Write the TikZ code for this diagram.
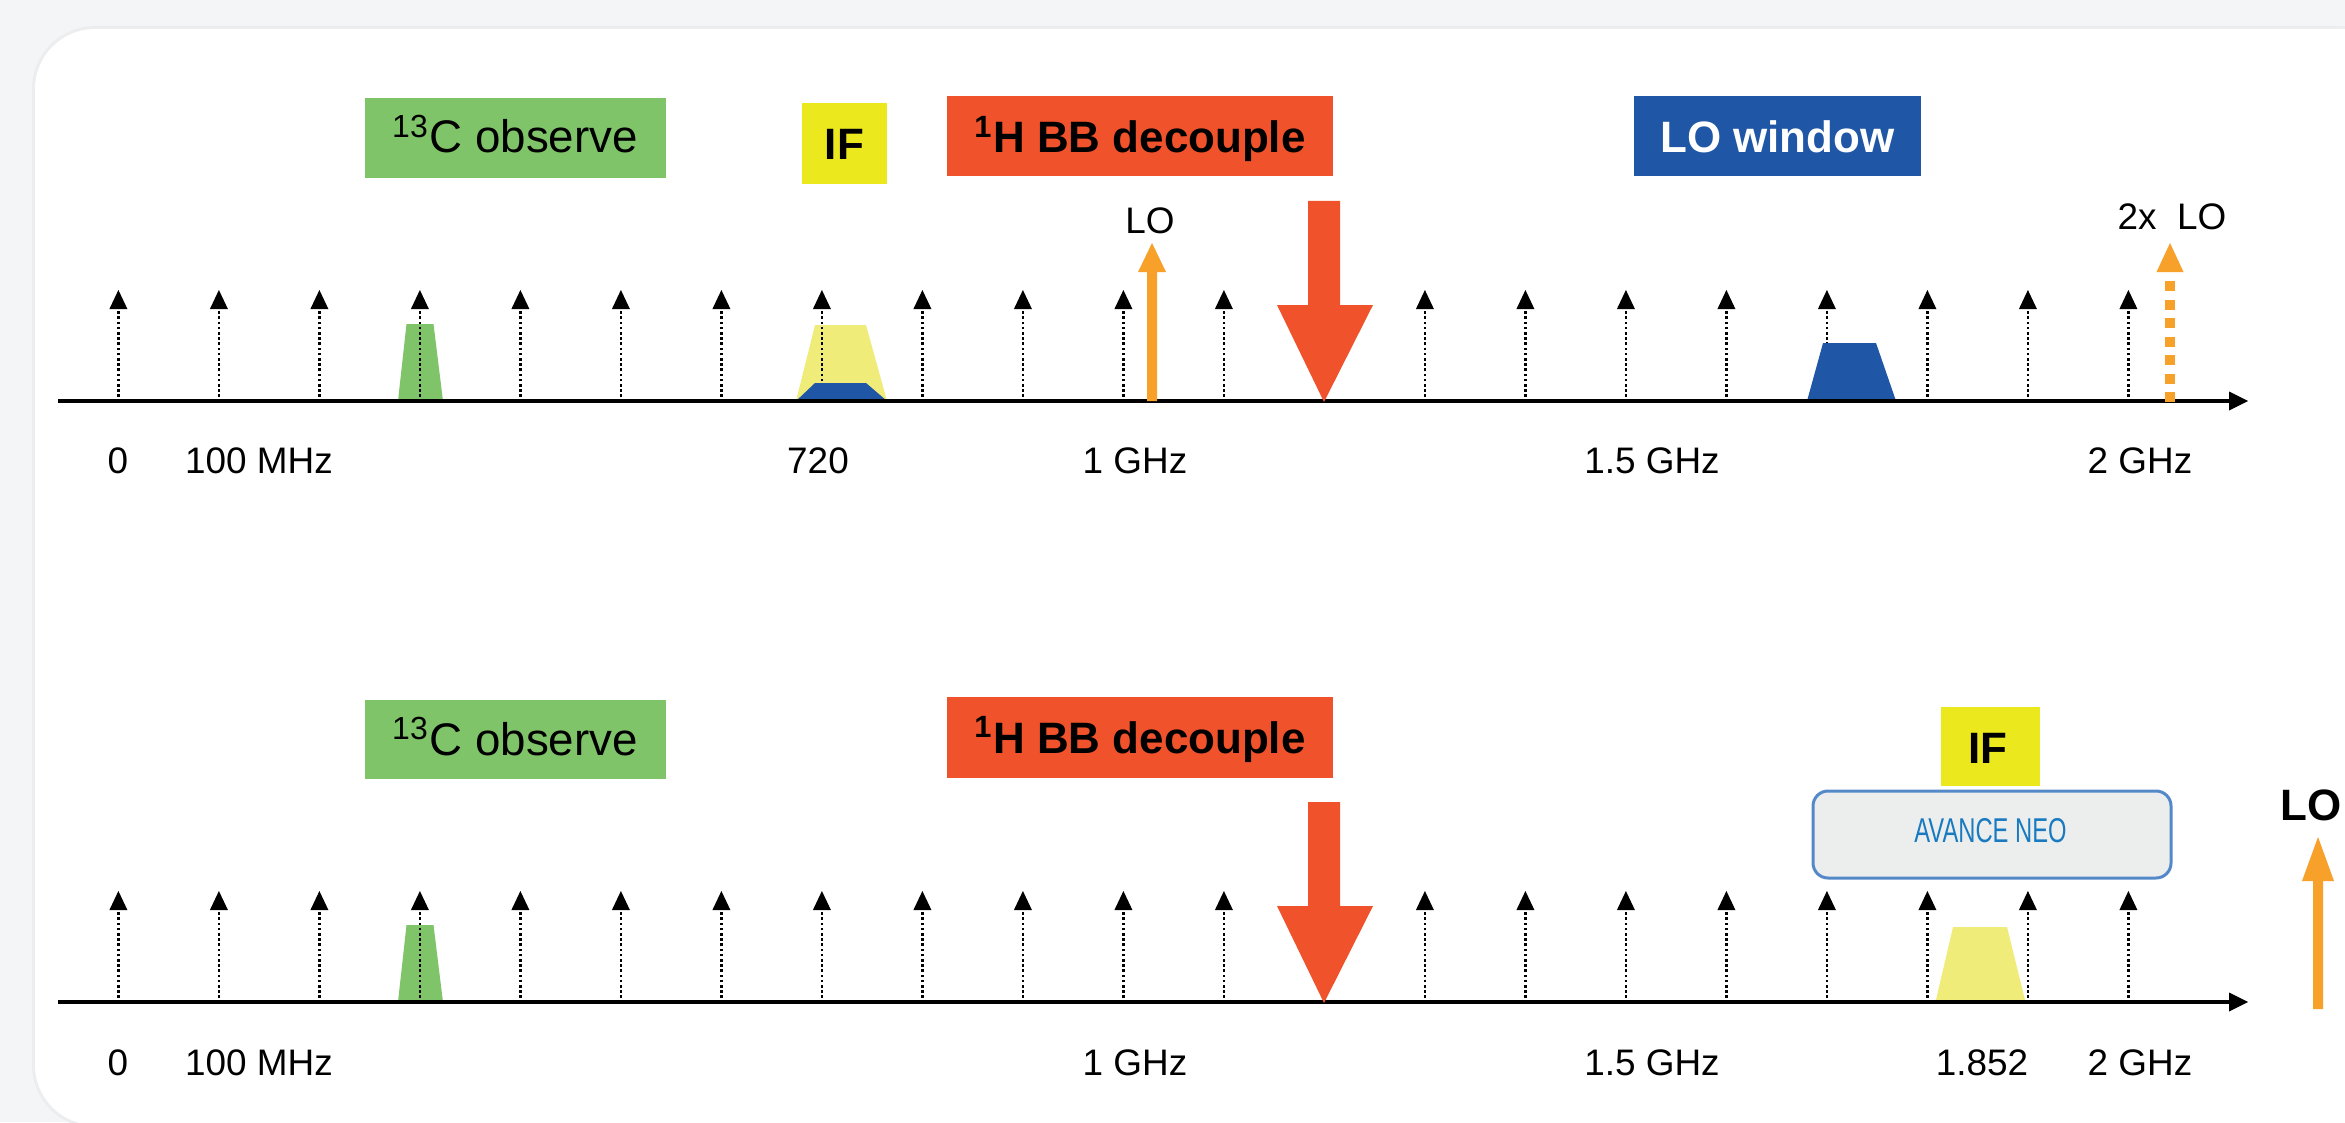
\documentclass[tikz,border=0pt]{standalone}
\usepackage{fontspec}
\usepackage{graphicx}
\setmainfont{Liberation Sans}
\definecolor{bgout}{RGB}{244,245,246}
\definecolor{cardedge}{RGB}{236,237,239}
\definecolor{greenC}{RGB}{128,196,106}
\definecolor{yellowC}{RGB}{235,232,30}
\definecolor{redC}{RGB}{240,82,43}
\definecolor{blueC}{RGB}{31,86,165}
\definecolor{lyellow}{RGB}{240,236,122}
\definecolor{orangeC}{RGB}{247,161,43}
\definecolor{avfill}{RGB}{236,238,238}
\definecolor{avborder}{RGB}{84,137,201}
\definecolor{avtext}{RGB}{25,122,192}
\newcommand{\lblfont}{\fontsize{10.5}{12}\selectfont}
\newcommand{\bxfont}{\fontsize{12.5}{14}\selectfont\bfseries}
\newcommand{\grfont}{\fontsize{13}{15}\selectfont}
\tikzset{
  lbl/.style={inner sep=0pt, anchor=base, font=\lblfont},
  bxtext/.style={inner sep=0pt, anchor=base, font=\bxfont},
  dotline/.style={line width=0.26mm, dash pattern=on 0.27mm off 0.25mm},
  axisline/.style={line width=0.35mm},
}
\begin{document}
\begin{tikzpicture}[x=0.1mm,y=-0.1mm]
\useasboundingbox (0,0) rectangle (2345,1122);
\clip (0,0) rectangle (2345,1122);
\fill[bgout] (0,0) rectangle (2345,1122);
\fill[cardedge, rounded corners=6.3mm] (32,26) rectangle (2400,1128);
\fill[white, rounded corners=6mm] (35,29) rectangle (2400,1125);

% ---------------- both panels: common parts ----------------
\foreach \oy in {0,601}{
  % green trapezoid (13C)
  \fill[greenC] (398,401+\oy) -- (406.5,324+\oy) -- (433.5,324+\oy) -- (443,401+\oy) -- cycle;
}
% top: IF band (yellow)
\fill[lyellow] (796,401) -- (815,325) -- (866,325) -- (887,401) -- cycle;
% bottom: IF band (yellow)
\fill[lyellow] (1935.5,1002) -- (1953,927) -- (2007,927) -- (2025.5,1002) -- cycle;

% ticks
\foreach \oy in {0,601}{
  \foreach \k in {0,...,20}{
    \pgfmathsetmacro{\tx}{118.4+100.5*\k}
    \draw[dotline] (\tx,397+\oy) -- (\tx,310+\oy);
    \fill (\tx-9,309+\oy) -- (\tx,290+\oy) -- (\tx+9,309+\oy) -- cycle;
  }
}

% top: blue parts
\fill[blueC] (796,401) -- (815,383) -- (866,383) -- (887,401) -- cycle;
\fill[blueC] (1807,401) -- (1823,343) -- (1876,343) -- (1896,401) -- cycle;

% axes
\foreach \oy in {0,601}{
  \draw[axisline] (58,401+\oy) -- (2232,401+\oy);
  \fill (2229,391.5+\oy) -- (2248,401+\oy) -- (2229,410.5+\oy) -- cycle;
  % red decoupling arrow
  \fill[redC] (1308,201+\oy) -- (1340,201+\oy) -- (1340,305+\oy) -- (1373,305+\oy)
     -- (1324,402+\oy) -- (1277,305+\oy) -- (1308,305+\oy) -- cycle;
}

% orange LO arrows
\fill[orangeC] (1147,401) -- (1147,272) -- (1138,272) -- (1152,243) -- (1166,272)
   -- (1157,272) -- (1157,401) -- cycle;
\draw[orangeC, line width=1mm, dash pattern=on 1mm off 0.85mm] (2170,402) -- (2170,281);
\fill[orangeC] (2156.5,272) -- (2170,243) -- (2183.5,272) -- cycle;
\fill[orangeC] (2313,1009) -- (2313,881) -- (2302,881) -- (2318,837) -- (2334,881)
   -- (2323,881) -- (2323,1009) -- cycle;

% ---------------- boxes ----------------
% top
\fill[greenC] (365,98) rectangle (666,178);
\node[inner sep=0pt, anchor=base, font=\grfont] (cobs1) at (515,153) {\textsuperscript{13}C observe};
\fill[yellowC] (802,103) rectangle (887,184);
\node[bxtext] (if1) at (844.5,160) {IF};
\fill[redC] (947,96) rectangle (1333,176);
\node[bxtext] (hdec1) at (1140,153) {\textsuperscript{1}H BB decouple};
\fill[blueC] (1634,96) rectangle (1921,176);
\node[bxtext, text=white] (lowin) at (1777.5,152) {LO window};
% bottom
\fill[greenC] (365,700) rectangle (666,779);
\node[inner sep=0pt, anchor=base, font=\grfont] (cobs2) at (515,755) {\textsuperscript{13}C observe};
\fill[redC] (947,697) rectangle (1333,778);
\node[bxtext] (hdec2) at (1140,753) {\textsuperscript{1}H BB decouple};
\fill[yellowC] (1941,707) rectangle (2040,786);
\node[bxtext] (if2) at (1988,763) {IF};
\draw[avborder, line width=0.3mm, fill=avfill, rounded corners=1.5mm] (1813,791) rectangle (2171,878);
\node[inner sep=0pt, anchor=base, text=avtext] (neo) at (1990.5,842)
   {\scalebox{0.69}[1]{\fontsize{9.8}{11}\selectfont AVANCE NEO}};

% ---------------- labels ----------------
\node[lbl] (lo1) at (1150,233) {LO};
\node[lbl] (lo2x) at (2172,230) {2x~~LO};
\node[inner sep=0pt, anchor=base west, font=\fontsize{12.5}{15}\selectfont\bfseries] (lo3) at (2280,820) {LO};

\node[lbl] (t0) at (118,473) {0};
\node[lbl] (t100) at (259,473) {100 MHz};
\node[lbl] (t720) at (818,473) {720};
\node[lbl] (t1g) at (1135,473) {1 GHz};
\node[lbl] (t15g) at (1652,473) {1.5 GHz};
\node[lbl] (t2g) at (2140,473) {2 GHz};

\node[lbl] (b0) at (118,1075) {0};
\node[lbl] (b100) at (259,1075) {100 MHz};
\node[lbl] (b1g) at (1135,1075) {1 GHz};
\node[lbl] (b15g) at (1652,1075) {1.5 GHz};
\node[lbl] (b1852) at (1982,1075) {1.852};
\node[lbl] (b2g) at (2140,1075) {2 GHz};
\end{tikzpicture}
\end{document}
